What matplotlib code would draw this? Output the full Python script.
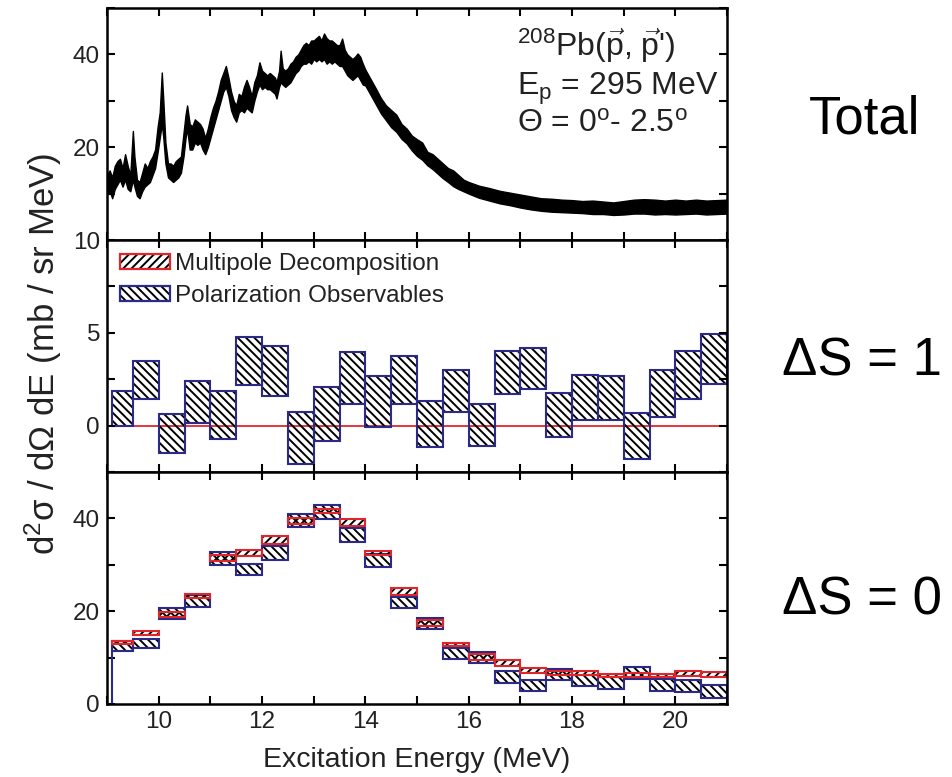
import matplotlib
matplotlib.use("Agg")
import matplotlib.pyplot as plt
from matplotlib.patches import Patch
from matplotlib.legend_handler import HandlerTuple
import numpy as np

plt.rcParams['font.family'] = ['Liberation Sans', 'DejaVu Sans']
plt.rcParams['mathtext.fontset'] = 'custom'
plt.rcParams['mathtext.rm'] = 'Liberation Sans'
plt.rcParams['mathtext.it'] = 'Liberation Sans:italic'
plt.rcParams['mathtext.bf'] = 'Liberation Sans:bold'
plt.rcParams['hatch.linewidth'] = 1.4

# ---------------- data ----------------
# Total spectrum (envelope of the noisy trace)
spec_E = [9.00, 9.05, 9.10, 9.15, 9.20, 9.25, 9.30, 9.35, 9.40, 9.45, 9.50, 9.53,
          9.58, 9.63, 9.68, 9.73, 9.78, 9.83, 9.88, 9.93, 9.98, 10.02, 10.06, 10.09,
          10.13, 10.18, 10.23, 10.28, 10.33, 10.38, 10.43, 10.48, 10.52, 10.55, 10.60,
          10.65, 10.70, 10.75, 10.80, 10.85, 10.90, 10.95, 11.00, 11.05, 11.10, 11.15,
          11.20, 11.25, 11.30, 11.35, 11.40, 11.45, 11.50, 11.55, 11.60, 11.65, 11.70,
          11.75, 11.80, 11.85, 11.90, 11.95, 12.00, 12.05, 12.10, 12.15, 12.20, 12.25,
          12.28, 12.33, 12.36, 12.40, 12.45, 12.50, 12.55, 12.60, 12.65, 12.70, 12.75,
          12.80, 12.85, 12.90, 12.95, 13.00, 13.05, 13.10, 13.15, 13.20, 13.25, 13.30,
          13.35, 13.40, 13.45, 13.50, 13.55, 13.60, 13.65, 13.70, 13.75, 13.80, 13.85,
          13.90, 13.95, 14.00, 14.10, 14.20, 14.30, 14.40, 14.50, 14.60, 14.70, 14.80,
          14.90, 15.00, 15.10, 15.20, 15.30, 15.40, 15.50, 15.60, 15.70, 15.80, 15.90,
          16.00, 16.20, 16.40, 16.60, 16.80, 17.00, 17.20, 17.40, 17.60, 17.80, 18.00,
          18.20, 18.40, 18.60, 18.80, 19.00, 19.20, 19.40, 19.60, 19.80, 20.00, 20.20,
          20.40, 20.60, 20.80, 21.00]
spec_lo = [10.0, 10.5, 9.0, 11.0, 12.0, 13.0, 11.5, 13.0, 11.0, 10.5, 13.0, 11.5,
           9.5, 9.0, 10.5, 11.5, 12.0, 12.5, 14.0, 15.5, 19.0, 22.0, 25.0, 22.0,
           16.5, 13.5, 13.0, 12.5, 13.0, 13.5, 14.5, 18.0, 22.0, 24.0, 19.5,
           19.5, 21.0, 20.5, 21.0, 19.5, 18.5, 20.0, 22.0, 24.0, 26.0, 28.0,
           30.0, 32.0, 33.0, 31.0, 28.0, 26.5, 25.5, 27.5, 28.0, 27.5, 28.5,
           28.0, 27.5, 30.0, 32.0, 33.5, 32.5, 33.0, 32.5, 32.5, 32.0, 31.5,
           30.5, 33.0, 34.0, 33.5, 33.0, 33.5, 34.0, 35.0, 36.0, 36.5, 37.5,
           38.0, 38.0, 38.5, 38.0, 39.0, 38.5, 39.0, 38.5, 39.0, 38.0, 38.5,
           38.0, 38.5, 38.0, 37.5, 37.5, 36.5, 35.5, 35.0, 34.5, 35.0, 35.5,
           34.5, 33.5, 33.3, 31.3, 29.3, 27.3, 25.8, 24.3, 23.3, 21.8, 20.8,
           19.3, 18.1, 17.3, 16.1, 15.3, 14.3, 13.3, 12.5, 11.6, 11.0, 10.5,
           10.0, 9.1, 8.5, 7.9, 7.5, 7.0, 6.6, 6.3, 6.1, 6.0, 5.9,
           5.8, 5.6, 5.6, 5.4, 5.5, 5.7, 5.7, 5.5, 5.6, 5.5, 5.6,
           5.7, 5.5, 5.6, 5.7]
spec_hi = [14.0, 15.0, 13.5, 16.0, 17.0, 17.5, 15.5, 18.5, 16.0, 14.0, 23.5, 18.0,
           13.0, 12.5, 14.5, 16.5, 15.5, 17.0, 18.0, 19.5, 24.5, 27.5, 36.1, 30.0,
           21.0, 16.5, 16.5, 16.0, 17.0, 17.5, 18.0, 23.0, 27.0, 29.0, 25.0,
           24.5, 26.0, 25.5, 25.0, 24.0, 22.0, 24.0, 26.5, 28.5, 30.0, 32.0,
           34.5, 36.0, 37.5, 35.0, 32.0, 30.0, 29.0, 31.5, 31.0, 33.0, 34.5,
           33.0, 31.0, 34.0, 35.5, 38.3, 36.5, 36.0, 35.5, 36.0, 35.5, 35.0,
           34.0, 36.5, 40.8, 37.0, 36.5, 37.0, 38.0, 38.5, 39.5, 40.0, 41.0,
           42.0, 42.5, 42.0, 43.0, 43.0, 43.5, 44.0, 43.0, 44.5, 43.5, 43.0,
           43.0, 42.5, 42.0, 42.0, 43.4, 41.0, 40.0, 39.5, 39.0, 39.5, 40.2,
           39.5, 38.0, 36.7, 34.7, 32.7, 30.6, 29.0, 28.0, 27.0, 25.0, 24.0,
           22.5, 21.7, 21.0, 19.0, 18.5, 17.5, 16.5, 15.5, 15.0, 14.0, 13.0,
           12.5, 11.7, 11.2, 10.6, 10.2, 9.8, 9.4, 9.0, 8.9, 8.7, 8.6,
           8.4, 8.5, 8.3, 8.1, 8.4, 8.7, 8.8, 8.7, 8.5, 8.7, 8.5,
           8.7, 8.5, 8.6, 8.7]

# Bin edges for the decomposition (MeV)
bin_edges = [9.1, 9.5, 10.0, 10.5, 11.0, 11.5, 12.0, 12.5, 13.0, 13.5, 14.0, 14.5,
             15.0, 15.5, 16.0, 16.5, 17.0, 17.5, 18.0, 18.5, 19.0, 19.5, 20.0, 20.5, 21.0]

# Delta S = 1, polarization observables band (lower, upper)
s1_po_lo = [0.0, 1.44, -1.5, 0.13, -0.74, 2.2, 1.57, -2.07, -0.83, 1.17, -0.09, 1.17,
            -1.13, 0.76, -1.08, 1.71, 1.98, -0.63, 0.31, 0.31, -1.82, 0.49, 1.42, 2.25]
s1_po_hi = [1.87, 3.46, 0.63, 2.38, 1.87, 4.77, 4.3, 0.76, 2.1, 3.98, 2.68, 3.73,
            1.3, 3.0, 1.17, 4.0, 4.18, 1.75, 2.74, 2.7, 0.7, 3.0, 4.04, 4.94]
# Delta S = 1, multipole decomposition (zero)
s1_md = 0.0

# Delta S = 0 bands
s0_md_lo = [12.9, 14.9, 18.8, 22.9, 30.9, 31.8, 34.5, 38.8, 41.1, 38.3, 32.2, 23.4,
            16.8, 12.4, 9.5, 8.1, 6.6, 6.3, 6.3, 5.8, 5.9, 5.8, 6.1, 5.8]
s0_md_hi = [13.6, 15.8, 19.9, 23.8, 32.2, 33.2, 36.3, 40.0, 42.0, 39.9, 32.9, 24.9,
            18.1, 13.1, 10.8, 9.5, 7.7, 7.2, 7.0, 6.5, 6.6, 6.5, 7.0, 6.8]
s0_po_lo = [11.5, 12.0, 18.3, 20.8, 30.0, 27.7, 31.1, 38.1, 39.9, 34.9, 29.5, 20.6,
            16.1, 9.7, 8.9, 4.6, 2.9, 5.2, 3.9, 3.2, 5.4, 2.9, 2.6, 1.3]
s0_po_hi = [13.6, 13.9, 20.7, 23.4, 32.8, 30.2, 34.0, 40.9, 42.9, 37.9, 32.4, 23.1,
            18.6, 12.0, 11.1, 7.0, 5.2, 7.6, 6.3, 5.8, 7.9, 5.4, 5.1, 4.1]

x_ticks = [10, 12, 14, 16, 18, 20]

RED = '#e0262b'
BLUE = '#2b2a86'
TXT = '#222222'

# ---------------- figure ----------------
fig = plt.figure(figsize=(9.53, 7.77), dpi=100)
L, W, H = 0.1123, 0.6506, 0.2986
ax1 = fig.add_axes([L, 0.6911, W, H])
ax2 = fig.add_axes([L, 0.3925, W, H], sharex=ax1)
ax3 = fig.add_axes([L, 0.0940, W, H], sharex=ax1)

for ax in (ax1, ax2, ax3):
    ax.set_xlim(9, 21)
    ax.set_xticks(x_ticks)
    ax.set_xticks([9, 11, 13, 15, 17, 19, 21], minor=True)
    ax.tick_params(which='both', direction='in', top=True, right=True,
                   length=6, width=1.5, labelsize=17.5, labelcolor=TXT, pad=5)
    for s in ax.spines.values():
        s.set_linewidth(1.8)
ax1.tick_params(labelbottom=False)
ax2.tick_params(labelbottom=False)

# top panel
ax1.fill_between(spec_E, spec_lo, spec_hi, color='black', linewidth=1.0)
ax1.set_ylim(0, 50)
ax1.set_yticks([20, 40])
ax1.set_yticks([10, 30, 50], minor=True)

# helper to draw hatched boxes
def boxes(ax, lo, hi, color, hatch):
    lo = np.asarray(lo)
    hi = np.asarray(hi)
    e = np.asarray(bin_edges)
    ax.bar(e[:-1], hi - lo, bottom=lo, width=np.diff(e), align='edge',
           facecolor='none', edgecolor='black', linewidth=0, hatch=hatch)
    ax.bar(e[:-1], hi - lo, bottom=lo, width=np.diff(e), align='edge',
           fill=False, edgecolor=color, linewidth=1.5)

# middle panel
ax2.hlines(s1_md, bin_edges[0], bin_edges[-1], color=RED, linewidth=1.3, zorder=1)
boxes(ax2, s1_po_lo, s1_po_hi, BLUE, '\\\\\\\\')
ax2.set_ylim(-2.5, 10)
ax2.set_yticks([0, 5, 10])
ax2.set_yticks([-2.5, 2.5, 7.5], minor=True)

def legend_handle(color, hatch):
    h = Patch(facecolor='white', edgecolor='black', linewidth=0, hatch=hatch)
    o = Patch(facecolor='none', edgecolor=color, linewidth=1.6)
    return (h, o)

handles = [legend_handle(RED, '////'), legend_handle(BLUE, '\\\\\\\\')]
labels = ['Multipole Decomposition', 'Polarization Observables']
leg = ax2.legend(handles, labels, loc='upper left', frameon=False, fontsize=17.5,
                 handler_map={tuple: HandlerTuple(ndivide=1, pad=0)},
                 handlelength=2.05, handleheight=0.55, handletextpad=0.2,
                 labelspacing=0.4, borderaxespad=0.3, borderpad=0.25)
for t in leg.get_texts():
    t.set_color(TXT)

# bottom panel
boxes(ax3, s0_po_lo, s0_po_hi, BLUE, '\\\\\\\\')
boxes(ax3, s0_md_lo, s0_md_hi, RED, '////')
ax3.vlines(bin_edges[0], 0, s0_po_lo[0], color=BLUE, linewidth=1.5)
ax3.set_ylim(0, 50)
ax3.set_yticks([0, 20, 40])
ax3.set_yticks([10, 30, 50], minor=True)

# labels
fig.text(0.4376, 0.022, 'Excitation Energy (MeV)', ha='center', va='center',
         fontsize=20.5, color=TXT)
fig.text(0.045, 0.544, r'd$^{\rm 2}$σ / dΩ dE (mb / sr MeV)', rotation=90,
         ha='center', va='center', fontsize=25, color=TXT)

fig.text(0.5425, 0.941, r"$^{\rm 208}$Pb($\vec{\rm p}$, $\vec{\rm p}$')", ha='left',
         va='center', fontsize=23, color=TXT)
fig.text(0.5425, 0.885, r'E$_{\rm p}$ = 295 MeV', ha='left', va='center',
         fontsize=23, color=TXT)
fig.text(0.5425, 0.840, r'Θ = 0$^{\rm o}$- 2.5$^{\rm o}$', ha='left', va='center',
         fontsize=23, color=TXT)

fig.text(0.9077, 0.846, 'Total', ha='center', va='center', fontsize=38, color='black')
fig.text(0.9045, 0.535, 'ΔS = 1', ha='center', va='center', fontsize=38, color='black')
fig.text(0.9045, 0.227, 'ΔS = 0', ha='center', va='center', fontsize=38, color='black')

fig.savefig('out.png', dpi=100)
